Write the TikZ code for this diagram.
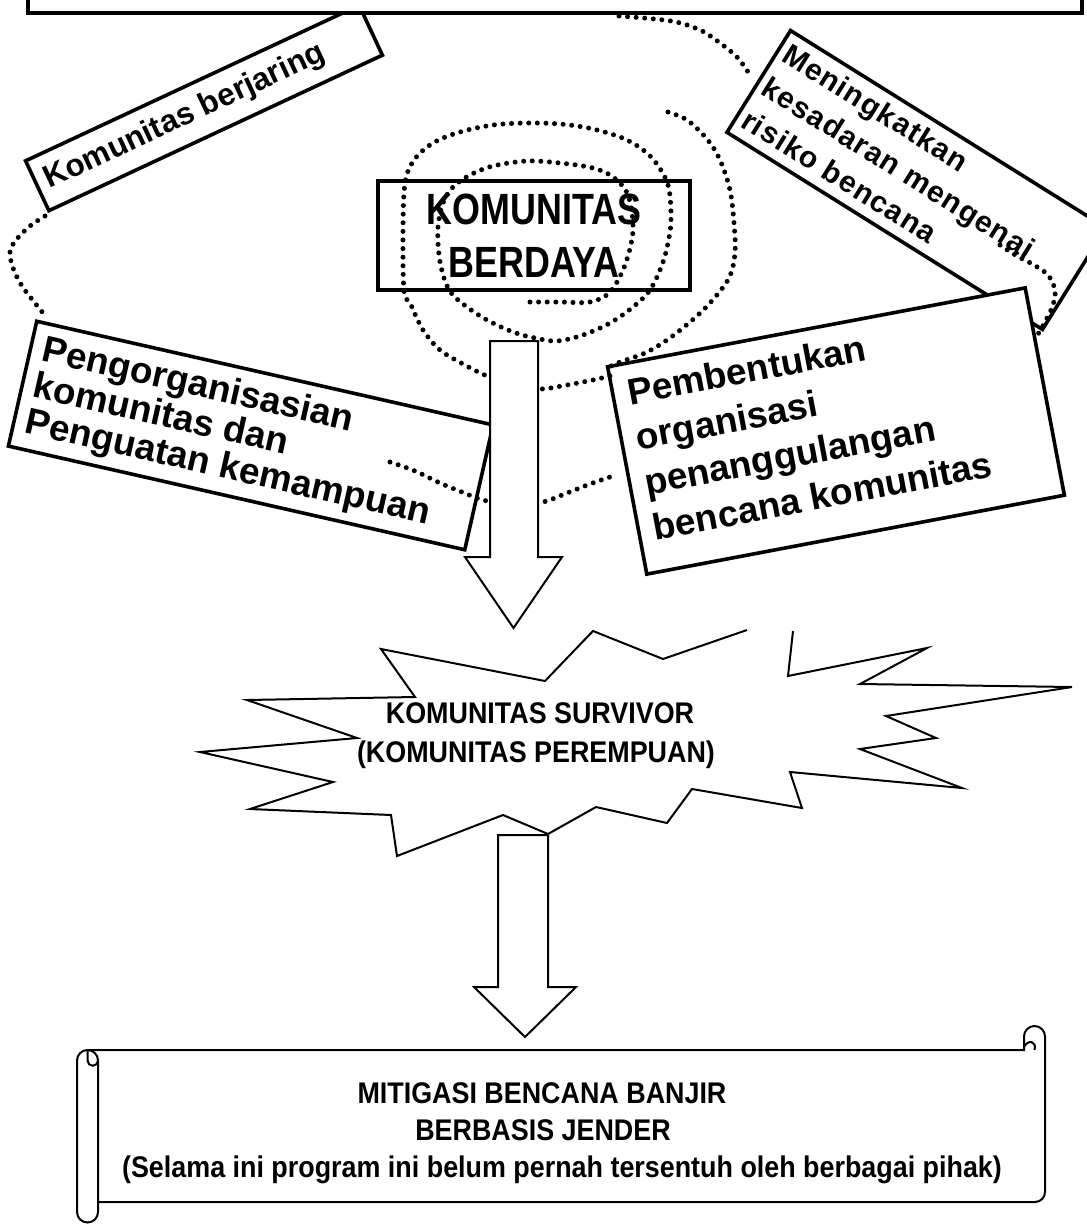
\documentclass[tikz,border=0pt]{standalone}
\usepackage{fontspec}
\setmainfont{Liberation Sans}
\newfontfamily\narrowsans{Liberation Sans}[FakeStretch=0.82]
\newfontfamily\semisans{Liberation Sans}[FakeStretch=0.9]
\newfontfamily\widesans{Liberation Sans}[LetterSpace=4]
\newdimen\pxu
\pxu=0.02cm
\begin{document}
\begin{tikzpicture}[x=0.02cm, y=-0.02cm,
  heavybox/.style={draw=black, line width=4.5\pxu},
  tiltbox/.style={draw=black, fill=white, line width=3.6\pxu, inner sep=0pt, outer sep=0pt},
  dotline/.style={line width=5\pxu, line cap=round, dash pattern=on 0pt off 8.6\pxu},
  outline/.style={draw=black, line width=2\pxu, line join=miter},
  blockarrow/.style={outline, fill=white},
  capline/.style={inner sep=0pt, anchor=base, font=\semisans\bfseries\fontsize{17}{20}\selectfont},
]
\useasboundingbox (0,0) rectangle (1087,1225);

% tilted strip: networking
\node[tiltbox, rotate=25, minimum width=368\pxu, minimum height=55\pxu] (jaring) at (204,108)
  {\parbox{348\pxu}{\raggedright\fontsize{17.9}{20}\selectfont\bfseries Komunitas berjaring}};

% heading frame, cut off by the page edge
\node[heavybox, fill=white, minimum width=1054\pxu, minimum height=60\pxu, inner sep=0pt] (head) at (555,-17) {};

% tilted strip: risk awareness
\node[tiltbox, rotate=-32, minimum width=372\pxu, minimum height=120\pxu] (sadar) at (916.5,180)
  {\parbox[c][102\pxu][t]{358\pxu}{\raggedright\widesans\fontsize{17}{22.1}\selectfont\bfseries Meningkatkan\\kesadaran mengenai\\risiko bencana}};

% dotted links near the top
\draw[dotline] plot[smooth, tension=0.55] coordinates {(619,16) (671,21) (700,30) (720,43) (737,57) (748,72)};
\draw[dotline] plot[smooth, tension=0.55] coordinates {(1000,245) (1017,256) (1034,265) (1048,275) (1055,290) (1053,305) (1047,318) (1040,331) (1032,343)};

% tilted box: disaster organisation
\node[tiltbox, rotate=10.7, minimum width=425\pxu, minimum height=211\pxu] (bentuk) at (836,431)
  {\parbox[c][181\pxu][t]{395\pxu}{\raggedright\fontsize{21}{26.1}\selectfont\bfseries Pembentukan\\organisasi\\penanggulangan\\bencana komunitas}};

% tilted box: community organising
\node[tiltbox, rotate=-12.8, minimum width=468\pxu, minimum height=128\pxu] (organ) at (250.75,435.5)
  {\parbox[c][106\pxu][t]{444\pxu}{\raggedright\fontsize{21}{21}\selectfont\bfseries Pengorganisasian\\komunitas dan\\Penguatan kemampuan}};

% central box
\node[draw=black, line width=4\pxu, minimum width=312\pxu, minimum height=109\pxu, align=center,
  font=\narrowsans\bfseries\fontsize{24.9}{30}\selectfont] (berdaya) at (534,235.5) {KOMUNITAS\\BERDAYA};

% spiral around the central box
\draw[dotline] plot[smooth, tension=0.55] coordinates {
  (530,302) (560,302) (590,302) (610,292) (625,265) (633,230) (628,195) (613,177) (593,168)
  (560,163) (527,161) (493,166) (470,175) (453,187) (443,203) (438,227) (439,255) (444,278)
  (452,294) (467,307) (487,320) (513,332) (535,338) (557,341) (583,335) (610,323) (633,307)
  (650,290) (662,265) (668,243) (671,220) (668,185) (652,158) (627,140) (593,129) (560,124)
  (527,123) (493,125) (460,132) (433,143) (414,160) (405,183) (403,230) (404,290) (411,305)
  (423,330) (440,350) (463,364) (487,376) (513,385) (540,389) (567,385) (593,380) (610,376)};
% outer arc on the right
\draw[dotline] plot[smooth, tension=0.55] coordinates {
  (668,112) (687,120) (707,139) (720,160) (730,190) (734,223) (735,253) (729,278) (710,303)
  (690,322) (667,340) (645,353) (620,362) (609,367)};
% loop on the left
\draw[dotline] plot[smooth, tension=0.55] coordinates {
  (45,216) (30,226) (16,240) (10,252) (13,268) (22,286) (35,303) (47,318)};
% lower link passing behind the arrow
\draw[dotline] plot[smooth, tension=0.55] coordinates {
  (390,462) (415,471) (440,483) (462,492) (483,500) (513,505) (543,502) (567,493) (590,484) (610,477)};

% first block arrow
\draw[blockarrow] (490,341) -- (538,341) -- (538,557) -- (562,557) -- (513.5,628) -- (465,557) -- (490,557) -- cycle;

% burst outline (open at one spike)
\draw[outline] (793,631) -- (788,676) -- (927,648) -- (860,684) -- (1072,687) -- (886,716)
  -- (936,738) -- (860,749) -- (962,788) -- (790,772) -- (802,808) -- (692,789) -- (667,823)
  -- (596,807) -- (548,834) -- (503,815) -- (397,856) -- (391,815) -- (250,809) -- (333,782)
  -- (200,752) -- (357,738) -- (247,700) -- (415,697) -- (381,649) -- (545,681) -- (593,631)
  -- (663,659) -- (747,630);
\node[capline] (surv1) at (540,723) {KOMUNITAS SURVIVOR};
\node[capline] (surv2) at (536,762) {(KOMUNITAS PEREMPUAN)};

% second block arrow
\draw[blockarrow] (498,835) -- (548,835) -- (548,987) -- (576,987) -- (525,1037) -- (474,987) -- (498,987) -- cycle;

% scroll banner
\draw[outline] (77,1212) -- (77,1060.5) arc[start angle=180, end angle=90, radius=10.5\pxu]
  -- (1024,1050) -- (1024,1036.5) arc[start angle=180, end angle=0, radius=10.5\pxu]
  -- (1045,1192) arc[start angle=0, end angle=-90, radius=10\pxu] -- (98,1202);
\draw[outline] (87.5,1050) arc[start angle=90, end angle=0, radius=10.5\pxu]
  -- (98,1212) arc[start angle=0, end angle=-180, radius=10.5\pxu];
\draw[outline] (98,1060.5) arc[start angle=0, end angle=-180, radius=5.25\pxu] -- (87.5,1050);
\draw[outline] (1024,1047) .. controls (1028,1039) and (1037,1041) .. (1034.5,1050);
\node[capline] (mit1) at (542,1103) {MITIGASI BENCANA BANJIR};
\node[capline] (mit2) at (543,1140) {BERBASIS JENDER};
\node[capline] (mit3) at (562,1177) {(Selama ini program ini belum pernah tersentuh oleh berbagai pihak)};
\end{tikzpicture}
\end{document}
